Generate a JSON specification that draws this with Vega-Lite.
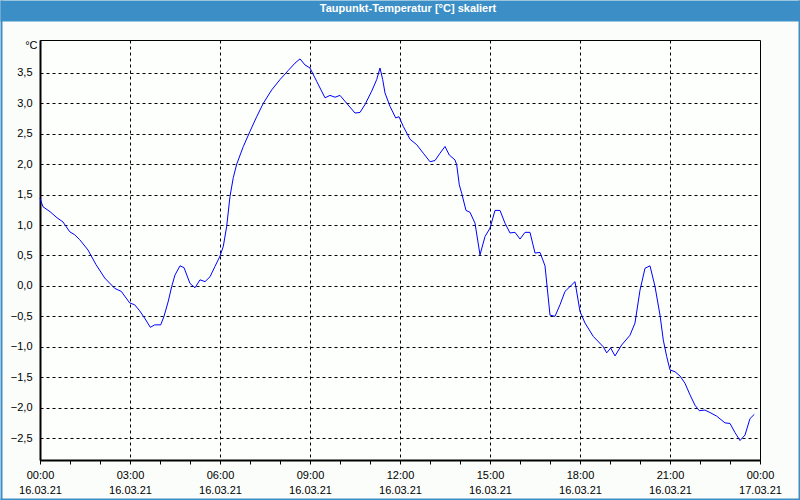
{
  "$schema": "https://vega.github.io/schema/vega-lite/v6.json",
  "width": 720,
  "height": 420,
  "autosize": {"type": "none"},
  "padding": {"left": 40, "top": 40, "right": 40, "bottom": 40},
  "background": "#fbfdfb",
  "config": {
    "view": {"stroke": "#000000", "strokeWidth": 1, "fill": "#fdfffd"},
    "font": "Liberation Sans"
  },
  "title": {
    "text": "Taupunkt-Temperatur [°C] skaliert",
    "color": "#ffffff",
    "fontSize": 11,
    "fontWeight": "bold",
    "font": "Liberation Sans",
    "anchor": "middle",
    "frame": "group",
    "offset": -14,
    "baseline": "bottom",
    "dx": 8
  },
  "data": {
    "values": [
      {"hour": 0, "value": 1.44},
      {"hour": 0.1, "value": 1.30},
      {"hour": 0.333, "value": 1.22},
      {"hour": 0.567, "value": 1.12},
      {"hour": 0.767, "value": 1.05},
      {"hour": 0.99, "value": 0.89},
      {"hour": 1.157, "value": 0.84},
      {"hour": 1.323, "value": 0.76},
      {"hour": 1.6, "value": 0.59},
      {"hour": 1.867, "value": 0.35},
      {"hour": 2.157, "value": 0.13},
      {"hour": 2.49, "value": -0.04},
      {"hour": 2.71, "value": -0.09},
      {"hour": 2.99, "value": -0.28},
      {"hour": 3.157, "value": -0.31},
      {"hour": 3.323, "value": -0.41},
      {"hour": 3.49, "value": -0.53},
      {"hour": 3.677, "value": -0.68},
      {"hour": 3.823, "value": -0.64},
      {"hour": 4.023, "value": -0.64},
      {"hour": 4.133, "value": -0.50},
      {"hour": 4.277, "value": -0.25},
      {"hour": 4.39, "value": -0.01},
      {"hour": 4.5, "value": 0.18},
      {"hour": 4.667, "value": 0.33},
      {"hour": 4.8, "value": 0.30},
      {"hour": 5.0, "value": 0.04},
      {"hour": 5.167, "value": -0.03},
      {"hour": 5.333, "value": 0.10},
      {"hour": 5.5, "value": 0.07},
      {"hour": 5.667, "value": 0.15},
      {"hour": 5.833, "value": 0.32},
      {"hour": 6.0, "value": 0.49},
      {"hour": 6.11, "value": 0.65},
      {"hour": 6.223, "value": 0.98},
      {"hour": 6.333, "value": 1.47},
      {"hour": 6.443, "value": 1.78},
      {"hour": 6.557, "value": 2.0},
      {"hour": 6.777, "value": 2.29},
      {"hour": 7.0, "value": 2.54},
      {"hour": 7.223, "value": 2.78},
      {"hour": 7.443, "value": 3.00},
      {"hour": 7.723, "value": 3.22},
      {"hour": 8.0, "value": 3.39},
      {"hour": 8.277, "value": 3.54},
      {"hour": 8.5, "value": 3.66},
      {"hour": 8.667, "value": 3.73},
      {"hour": 8.833, "value": 3.63},
      {"hour": 9.0, "value": 3.58},
      {"hour": 9.223, "value": 3.36},
      {"hour": 9.5, "value": 3.09},
      {"hour": 9.667, "value": 3.13},
      {"hour": 9.833, "value": 3.10},
      {"hour": 10.0, "value": 3.13},
      {"hour": 10.223, "value": 3.00},
      {"hour": 10.5, "value": 2.84},
      {"hour": 10.667, "value": 2.85},
      {"hour": 10.833, "value": 2.98},
      {"hour": 11.057, "value": 3.20},
      {"hour": 11.223, "value": 3.39},
      {"hour": 11.333, "value": 3.58},
      {"hour": 11.423, "value": 3.39},
      {"hour": 11.5, "value": 3.17},
      {"hour": 11.667, "value": 2.95},
      {"hour": 11.857, "value": 2.76},
      {"hour": 11.967, "value": 2.78},
      {"hour": 12.11, "value": 2.62},
      {"hour": 12.333, "value": 2.41},
      {"hour": 12.557, "value": 2.32},
      {"hour": 12.777, "value": 2.18},
      {"hour": 13.0, "value": 2.04},
      {"hour": 13.167, "value": 2.06},
      {"hour": 13.333, "value": 2.18},
      {"hour": 13.5, "value": 2.29},
      {"hour": 13.643, "value": 2.15},
      {"hour": 13.833, "value": 2.07},
      {"hour": 13.89, "value": 1.99},
      {"hour": 13.977, "value": 1.66},
      {"hour": 14.057, "value": 1.52},
      {"hour": 14.2, "value": 1.24},
      {"hour": 14.333, "value": 1.21},
      {"hour": 14.5, "value": 1.03},
      {"hour": 14.667, "value": 0.51},
      {"hour": 14.833, "value": 0.81},
      {"hour": 15.0, "value": 0.95},
      {"hour": 15.167, "value": 1.24},
      {"hour": 15.333, "value": 1.24},
      {"hour": 15.5, "value": 1.03},
      {"hour": 15.667, "value": 0.87},
      {"hour": 15.833, "value": 0.88},
      {"hour": 16.0, "value": 0.77},
      {"hour": 16.167, "value": 0.88},
      {"hour": 16.333, "value": 0.88},
      {"hour": 16.5, "value": 0.54},
      {"hour": 16.667, "value": 0.55},
      {"hour": 16.833, "value": 0.33},
      {"hour": 17.0, "value": -0.48},
      {"hour": 17.167, "value": -0.50},
      {"hour": 17.333, "value": -0.31},
      {"hour": 17.5, "value": -0.09},
      {"hour": 17.833, "value": 0.07},
      {"hour": 18.0, "value": -0.42},
      {"hour": 18.167, "value": -0.61},
      {"hour": 18.443, "value": -0.83},
      {"hour": 18.777, "value": -1.00},
      {"hour": 18.89, "value": -1.10},
      {"hour": 19.023, "value": -1.02},
      {"hour": 19.167, "value": -1.15},
      {"hour": 19.39, "value": -0.97},
      {"hour": 19.667, "value": -0.81},
      {"hour": 19.833, "value": -0.61},
      {"hour": 20.0, "value": -0.07},
      {"hour": 20.167, "value": 0.29},
      {"hour": 20.333, "value": 0.33},
      {"hour": 20.5, "value": -0.01},
      {"hour": 20.667, "value": -0.48},
      {"hour": 20.777, "value": -0.89},
      {"hour": 20.89, "value": -1.16},
      {"hour": 21.0, "value": -1.38},
      {"hour": 21.167, "value": -1.41},
      {"hour": 21.333, "value": -1.48},
      {"hour": 21.5, "value": -1.60},
      {"hour": 21.667, "value": -1.79},
      {"hour": 21.833, "value": -1.96},
      {"hour": 21.977, "value": -2.05},
      {"hour": 22.167, "value": -2.04},
      {"hour": 22.333, "value": -2.08},
      {"hour": 22.557, "value": -2.14},
      {"hour": 22.833, "value": -2.25},
      {"hour": 23.0, "value": -2.26},
      {"hour": 23.167, "value": -2.41},
      {"hour": 23.333, "value": -2.54},
      {"hour": 23.5, "value": -2.45},
      {"hour": 23.667, "value": -2.18},
      {"hour": 23.81, "value": -2.11}
    ]
  },
  "resolve": {
    "scale": {"x": "independent", "y": "independent"},
    "axis": {"x": "independent", "y": "independent"}
  },
  "layer": [
    {
      "mark": {"type": "line", "color": "#0000ff", "strokeWidth": 1},
      "encoding": {
        "x": {
          "field": "hour",
          "type": "quantitative",
          "scale": {"domain": [0, 24], "nice": false, "zero": false},
          "axis": {
            "values": [0, 1, 2, 3, 4, 5, 6, 7, 8, 9, 10, 11, 12, 13, 14, 15, 16, 17, 18, 19, 20, 21, 22, 23, 24],
            "title": null,
            "labelExpr": "datum.value % 3 === 0 ? (datum.value === 24 ? ['00:00', '17.03.21'] : [(datum.value < 10 ? '0' : '') + datum.value + ':00', '16.03.21']) : ''",
            "labelFontSize": 11,
            "labelColor": "#000000",
            "labelLineHeight": 15,
            "labelPadding": 5,
            "labelBaseline": "top",
            "labelFlush": false,
            "labelOverlap": false,
            "tickSize": 4,
            "tickColor": "#000000",
            "domainColor": "#000000",
            "domainWidth": 2,
            "grid": true,
            "gridColor": "#000000",
            "gridDash": [3, 3],
            "gridOpacity": {"condition": {"test": "datum.value % 3 === 0 && datum.value > 0 && datum.value < 24", "value": 1}, "value": 0}
          }
        },
        "y": {
          "field": "value",
          "type": "quantitative",
          "scale": {"domain": [-2.86, 4.04], "nice": false, "zero": false},
          "axis": {
            "values": [-2.5, -2, -1.5, -1, -0.5, 0, 0.5, 1, 1.5, 2, 2.5, 3, 3.5],
            "labelExpr": "replace(format(datum.value, '.1f'), '.', ',')",
            "ticks": false,
            "labelPadding": 8,
            "labelFontSize": 11,
            "labelColor": "#000000",
            "domainColor": "#000000",
            "domainWidth": 2,
            "grid": true,
            "gridColor": "#000000",
            "gridDash": [3, 3],
            "gridOpacity": 1,
            "title": "°C",
            "titleAngle": 0,
            "titleAlign": "right",
            "titleBaseline": "middle",
            "titleX": -3,
            "titleY": 5,
            "titleFontSize": 11,
            "titleFontWeight": "normal",
            "titleColor": "#000000"
          }
        }
      }
    },
    {
      "mark": {"type": "point", "opacity": 0},
      "encoding": {
        "x": {
          "field": "hour",
          "type": "quantitative",
          "scale": {"domain": [0, 24], "range": [-40, 760], "nice": false, "zero": false},
          "axis": {"orient": "top", "offset": 29.5, "domainColor": "#3c8fc6", "domainWidth": 21, "labels": false, "ticks": false, "grid": false, "title": null}
        },
        "y": {
          "field": "value",
          "type": "quantitative",
          "scale": {"domain": [-2.86, 4.04], "range": [460, -40], "nice": false, "zero": false},
          "axis": {"orient": "left", "offset": 39, "domainColor": "#3c8fc6", "domainWidth": 2, "labels": false, "ticks": false, "grid": false, "title": null}
        }
      }
    },
    {
      "mark": {"type": "point", "opacity": 0},
      "encoding": {
        "x": {
          "field": "hour",
          "type": "quantitative",
          "scale": {"domain": [0, 24], "range": [-40, 760], "nice": false, "zero": false},
          "axis": {"orient": "bottom", "offset": 39, "domainColor": "#3c8fc6", "domainWidth": 2, "labels": false, "ticks": false, "grid": false, "title": null}
        },
        "y": {
          "field": "value",
          "type": "quantitative",
          "scale": {"domain": [-2.86, 4.04], "range": [460, -40], "nice": false, "zero": false},
          "axis": {"orient": "right", "offset": 39, "domainColor": "#3c8fc6", "domainWidth": 2, "labels": false, "ticks": false, "grid": false, "title": null}
        }
      }
    }
  ]
}
